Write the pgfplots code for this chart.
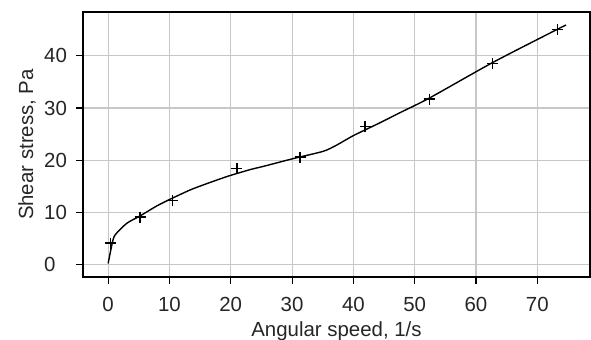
\documentclass[border=0pt]{standalone}
\usepackage{pgfplots}
\pgfplotsset{compat=1.18}
\usepackage{fontspec}
\setmainfont{Liberation Sans}
\begin{document}
\begin{tikzpicture}
\begin{axis}[
  scale only axis, width=507bp, height=265bp,
  xmin=-4.1, xmax=78.6, ymin=-2.4, ymax=48.4,
  xtick={0,10,...,70}, ytick={0,10,...,40},
  grid=major, major grid style={color=black!22, line width=1.1bp},
  axis line style={line width=1.3bp},
  tick align=outside, major tick length=7bp,
  tick style={black, line width=1.1bp},
  xtick pos=bottom, ytick pos=left,
  /pgf/number format/assume math mode=true,
  ticklabel style={font=\fontsize{20.5}{22}\selectfont, text=black!85},
  xticklabel style={anchor=base, yshift=-27.7bp},
  yticklabel style={anchor=west, inner sep=0pt, xshift=-32bp},
  label style={font=\fontsize{20.5}{22}\selectfont, text=black!85},
  xlabel={Angular speed, 1/s},
  ylabel={Shear stress, Pa},
  xlabel style={at={(axis description cs:0.5,-0.2245)}, anchor=base},
  ylabel style={at={(axis description cs:-0.0986,0.5)}, anchor=base},
]
\addplot[black, line width=1.4bp, smooth, tension=0.4] coordinates {
 (0,0.2) (0.6,3.7) (1.1,5.6) (3.05,7.9) (5.2,9.3) (7.9,11.2) (10.1,12.5)
 (13.4,14.3) (16.1,15.5) (19.5,16.9) (23.2,18.2) (25.3,18.8) (30.2,20.3)
 (35.1,21.7) (37.3,22.9) (40,24.7) (44.4,27.2) (47.6,29.1) (52.4,31.9)
 (62.7,38.7) (73.3,45.1) (74.7,45.9)
};
\addplot[black, only marks, mark=+, mark size=5.5bp, mark options={line width=1.3bp}] coordinates {
 (0.35,4.1) (5.2,9.1) (10.5,12.3) (21.0,18.4) (31.3,20.6) (41.9,26.4)
 (52.4,31.7) (62.7,38.5) (73.3,45.1)
};
\end{axis}
\pgfresetboundingbox
\path[use as bounding box] ([xshift=-83bp,yshift=-63bp]current axis.south west) rectangle ++(591bp,340bp);
\end{tikzpicture}
\end{document}
